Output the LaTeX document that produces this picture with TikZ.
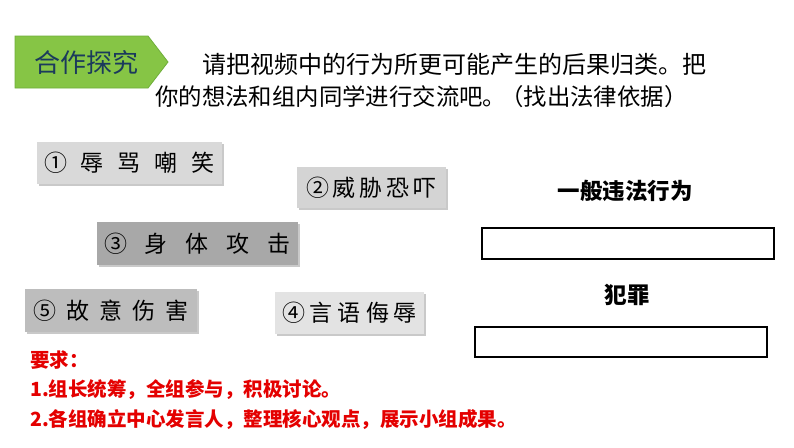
\documentclass[tikz,border=0pt]{standalone}
\usepackage{fontspec}
\setmainfont{Noto Sans CJK SC}
\usetikzlibrary{shadows}
\definecolor{tagGreen}{HTML}{86C545}
\definecolor{tagEdge}{HTML}{6FAE3A}
\definecolor{tagText}{HTML}{1B3A5C}
\definecolor{reqRed}{RGB}{228,0,0}
\newcommand\spc[6]{#2\hspace{#1}#3\hspace{#1}#4\hspace{#1}#5\hspace{#1}#6}
\tikzset{
  itembox/.style={draw=none, inner sep=0pt, font=\fontsize{23}{27}\selectfont,
    drop shadow={shadow xshift=2pt, shadow yshift=-2pt, opacity=0.35, fill=black!60}},
  answerbox/.style={draw=black, line width=2pt, fill=white, inner sep=0pt},
  catlabel/.style={font=\fontsize{22.5}{26}\selectfont\bfseries},
  reqtext/.style={anchor=west, inner sep=0pt, text=reqRed, font=\fontsize{19.5}{23}\selectfont\bfseries}
}
\begin{document}
\begin{tikzpicture}[x=1pt,y=-1pt]
\useasboundingbox (0,0) rectangle (794,447);
\fill[white] (0,0) rectangle (794,447);

% green tag
\draw[fill=tagGreen, draw=tagEdge, line width=0.8pt]
  (15,36) -- (148,36) -- (168,62) -- (148,88) -- (15,88) -- cycle;
\node[text=tagText, font=\fontsize{26}{29}\selectfont] (tag) at (86.5,62.5) {合作探究};

% instruction text
\node[anchor=west, inner sep=0pt, font=\fontsize{24}{27}\selectfont] (l1) at (202,64)
  {请把视频中的行为所更可能产生的后果归类。把};
\node[anchor=west, inner sep=0pt, font=\fontsize{23.4}{27}\selectfont] (l2) at (155,97)
  {你的想法和组内同学进行交流吧。\hspace{-6pt}（找出法律依据）};

% item boxes
\node[itembox, fill=black!15, minimum width=185, minimum height=42] (b1) at (129.5,163)
  {\spc{14pt}{①}{辱}{骂}{嘲}{笑}};
\node[itembox, fill=black!17, minimum width=149, minimum height=41] (b2) at (371.5,187.5)
  {\spc{4pt}{②}{威}{胁}{恐}{吓}};
\node[itembox, fill=black!34, minimum width=201, minimum height=43] (b3) at (197.5,243.5)
  {\spc{18pt}{③}{身}{体}{攻}{击}};
\node[itembox, fill=black!26, minimum width=172, minimum height=43] (b5) at (111,310.5)
  {\spc{10pt}{⑤}{故}{意}{伤}{害}};
\node[itembox, fill=black!11, minimum width=149, minimum height=42] (b4) at (349.5,313)
  {\spc{5pt}{④}{言}{语}{侮}{辱}};

% categories
\node[catlabel] (c1) at (625,191) {一般违法行为};
\node[answerbox, minimum width=292, minimum height=31] (r1) at (628,243.5) {};
\node[catlabel] (c2) at (627,295) {犯罪};
\node[answerbox, minimum width=292, minimum height=30] (r2) at (621,342) {};

% requirements
\node[reqtext] (q0) at (30,360) {要求：};
\node[reqtext] (q1) at (30,390) {1.组长统筹，全组参与，积极讨论。};
\node[reqtext] (q2) at (30,420) {2.各组确立中心发言人，整理核心观点，展示小组成果。};
\end{tikzpicture}
\end{document}
